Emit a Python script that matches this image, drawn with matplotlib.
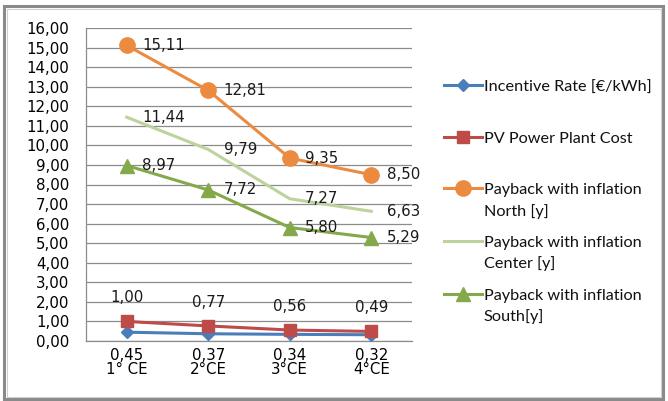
import numpy as np
import matplotlib.pyplot as plt
from matplotlib.lines import Line2D
from matplotlib.legend_handler import HandlerLine2D
from matplotlib.patches import Rectangle

# values
categories = ["1° CE", "2°CE", "3°CE", "4°CE"]
incentive = [0.45, 0.37, 0.34, 0.32]
pv_cost = [1.00, 0.77, 0.56, 0.49]
north = [15.11, 12.81, 9.35, 8.50]
center = [11.44, 9.79, 7.27, 6.63]
south = [8.97, 7.72, 5.80, 5.29]

legend_labels = [
    "Incentive Rate [€/kWh]\n",
    "PV Power Plant Cost\n",
    "Payback with inflation\nNorth [y]",
    "Payback with inflation\nCenter [y]",
    "Payback with inflation\nSouth[y]",
]

c_blue = "#4a7ebb"
c_red = "#be4b48"
c_orange = "#ec8a3f"
c_lgreen = "#bdd39e"
c_green = "#84a94a"

num_font = "DejaVu Sans"
leg_font = "Lato"
leg_ls = 1.55


def fmt(v):
    return "{:.2f}".format(v).replace(".", ",")


class TopLineHandler(HandlerLine2D):
    # Excel puts the key beside the first line of a wrapped label
    def create_artists(self, legend, orig_handle, xdescent, ydescent,
                       width, height, fontsize, trans):
        arts = super().create_artists(legend, orig_handle, xdescent, ydescent,
                                      width, height, fontsize, trans)
        for a in arts:
            a.set_ydata(np.asarray(a.get_ydata()) + 0.5 * leg_ls * fontsize)
        return arts


fig = plt.figure(figsize=(6.68, 4.01), dpi=100)
ax = fig.add_axes([86 / 668, 60 / 401, 326 / 668, 313 / 401])

x = np.arange(len(categories))
lw = 2.2
ax.plot(x, incentive, color=c_blue, lw=lw, marker="D", ms=6, zorder=3,
        label=legend_labels[0])
ax.plot(x, pv_cost, color=c_red, lw=lw, marker="s", ms=8, zorder=3,
        label=legend_labels[1])
ax.plot(x, north, color=c_orange, lw=lw, marker="o", ms=11, zorder=3,
        label=legend_labels[2])
ax.plot(x, center, color=c_lgreen, lw=lw, zorder=3,
        label=legend_labels[3])
ax.plot(x, south, color=c_green, lw=lw, marker="^", ms=10, zorder=3,
        label=legend_labels[4])

# data labels
lab_kw = dict(textcoords="offset points", fontsize=10.8, family=num_font,
              color="#1a1a1a", zorder=4)
for series in (north, center, south):
    for i, v in enumerate(series):
        ax.annotate(fmt(v), (i, v), xytext=(11, 0), ha="left", va="center",
                    **lab_kw)
for i, v in enumerate(pv_cost):
    ax.annotate(fmt(v), (i, v), xytext=(0, 17), ha="center", va="center",
                **lab_kw)

ax.set_xlim(-0.5, 3.5)
ax.set_ylim(0, 16)
ax.set_yticks(np.arange(0, 17, 1))
ax.set_yticklabels([fmt(v) for v in np.arange(0, 17, 1)],
                   family=num_font, fontsize=10.8)
ax.set_xticks(x)
ax.set_xticklabels([fmt(v) + "\n" + c for v, c in zip(incentive, categories)],
                   family=num_font, fontsize=10.8, linespacing=0.95)
ax.tick_params(axis="y", length=0, pad=12)
ax.tick_params(axis="x", length=0, pad=5)

ax.grid(axis="y", color="#8c8c8c", lw=0.9)
ax.set_axisbelow(True)
for side in ("top", "right"):
    ax.spines[side].set_visible(False)
for side in ("left", "bottom"):
    ax.spines[side].set_color("#8c8c8c")
    ax.spines[side].set_linewidth(0.9)

leg = fig.legend(handler_map={Line2D: TopLineHandler()},
                 loc="upper left", bbox_to_anchor=(436 / 668, 1 - 73 / 401),
                 frameon=False, borderpad=0, handlelength=2.3,
                 handletextpad=0.15, labelspacing=1.05,
                 prop={"family": leg_font, "size": 11.7})
for t in leg.get_texts():
    t.set_linespacing(leg_ls)
    t.set_color("#111111")

# outer chart frame
fig.add_artist(Rectangle((4 / 668, 2 / 401), 659 / 668, 393 / 401,
                         transform=fig.transFigure, fill=False,
                         edgecolor="#8a8a8a", lw=2.2))
fig.add_artist(Rectangle((6.5 / 668, 4.5 / 401), 654 / 668, 388 / 401,
                         transform=fig.transFigure, fill=False,
                         edgecolor="#d0d0d0", lw=0.8))

fig.savefig("out.png", dpi=100)
